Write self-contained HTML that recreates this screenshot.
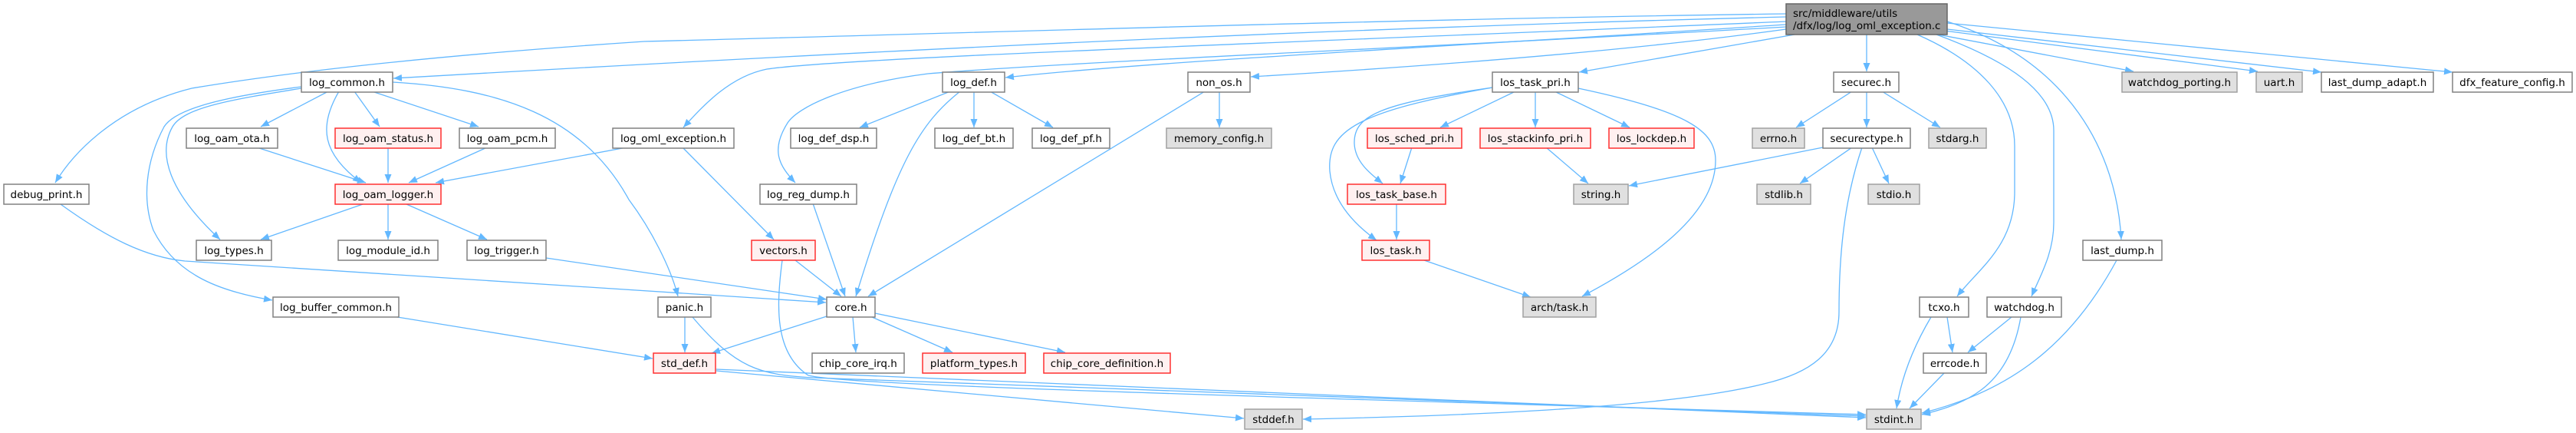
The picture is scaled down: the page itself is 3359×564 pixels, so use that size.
<!DOCTYPE html>
<html><head><meta charset="utf-8"><style>
html,body{margin:0;padding:0;background:#fff;}
svg{display:block;}
text{font-family:"DejaVu Sans","Liberation Sans",sans-serif;font-size:13.5px;fill:#000;}
.n{fill:#fff;stroke:#808080;stroke-width:1.5;}
.r{fill:#fff0f0;stroke:#ff3030;stroke-width:1.5;}
.g{fill:#e0e0e0;stroke:#a0a0a0;stroke-width:1.5;}
.e{fill:none;stroke:#63b8ff;stroke-width:1.3;marker-end:url(#a);}
</style></head><body>
<svg width="3359" height="564" viewBox="0 0 3359 564" xmlns="http://www.w3.org/2000/svg">
<defs><marker id="a" markerUnits="userSpaceOnUse" markerWidth="12" markerHeight="9" refX="11" refY="4.5" orient="auto"><path d="M0,0 L11,4.5 L0,9 z" fill="#63b8ff"/></marker></defs>
<g>
<!-- root edges -->
<path class="e" d="M2329,22 C1600,40 900,80 513,102"/>
<path class="e" d="M2329,18 C1800,25 1200,45 840,54 C600,70 400,90 250,115 C150,140 95,200 72,238"/>
<path class="e" d="M2329,28 C1700,55 1100,75 1000,90 C950,100 915,140 891,166"/>
<path class="e" d="M2329,32 C1900,60 1500,80 1311,101"/>
<path class="e" d="M2329,38 C2100,70 1800,90 1631,100"/>
<path class="e" d="M2329,35 C1900,60 1400,80 1210,96 C1100,110 1040,140 1027,160 C1005,195 1015,215 1037,238"/>
<path class="e" d="M2340,45 L2059,94"/>
<path class="e" d="M2434,45 L2434,93"/>
<path class="e" d="M2527,45 L2782,93"/>
<path class="e" d="M2535,40 L2944,93"/>
<path class="e" d="M2539,38 L3027,94"/>
<path class="e" d="M2539,30 L3198,94"/>
<path class="e" d="M2500,45 C2580,80 2627,130 2627,190 L2627,250 C2627,320 2580,350 2552,386"/>
<path class="e" d="M2525,45 C2620,80 2678,120 2678,170 L2678,290 C2678,330 2660,360 2649,386"/>
<path class="e" d="M2539,28 C2700,80 2760,200 2766,312"/>
<!-- log_common -->
<path class="e" d="M428,119 L340,165"/>
<path class="e" d="M442,119 C415,165 420,200 471,238"/>
<path class="e" d="M462,119 L495,165"/>
<path class="e" d="M485,119 L624,165"/>
<path class="e" d="M393,115 C300,130 240,140 225,165 C205,200 220,250 287,312"/>
<path class="e" d="M393,113 C300,125 230,140 214,165 C190,210 185,260 200,300 C230,360 290,380 355,391"/>
<path class="e" d="M512,107 C650,115 760,150 820,260 C850,300 875,350 884,386"/>
<!-- logger row -->
<path class="e" d="M335,192 L477,238"/>
<path class="e" d="M506,192 L506,238"/>
<path class="e" d="M635,192 L533,238"/>
<path class="e" d="M817,192 L568,238"/>
<path class="e" d="M890,192 L1009,312"/>
<path class="e" d="M473,266 L340,312"/>
<path class="e" d="M506,266 L506,312"/>
<path class="e" d="M530,266 L635,312"/>
<path class="e" d="M712,336 L1078,390"/>
<path class="e" d="M79,266 C140,310 190,335 241,340 L1077,394"/>
<path class="e" d="M512,412 L851,467"/>
<!-- mid -->
<path class="e" d="M893,413 L893,459"/>
<path class="e" d="M903,413 C960,480 990,488 1060,492 L2433,542"/>
<path class="e" d="M1037,339 L1097,386"/>
<path class="e" d="M1020,339 C1012,400 1010,460 1054,489 C1100,500 1400,510 2433,540"/>
<path class="e" d="M1060,265 L1102,386"/>
<path class="e" d="M1252,119 C1200,160 1170,210 1116,386"/>
<path class="e" d="M1239,119 L1121,166"/>
<path class="e" d="M1270,119 L1270,166"/>
<path class="e" d="M1291,119 L1373,166"/>
<path class="e" d="M1590,119 L1590,166"/>
<path class="e" d="M1571,119 L1132,386"/>
<path class="e" d="M1078,412 L928,460"/>
<path class="e" d="M1112,413 L1116,459"/>
<path class="e" d="M1137,413 L1242,459"/>
<path class="e" d="M1141,408 L1389,459"/>
<path class="e" d="M934,483 L1622,545"/>
<path class="e" d="M934,481 L2433,544"/>
<path class="e" d="M2428,192 C2405,260 2398,330 2398,406 C2398,460 2360,486 2300,500 C2200,525 2000,540 1699,546"/>
<!-- los -->
<path class="e" d="M1976,119 L1878,166"/>
<path class="e" d="M2002,119 L2002,166"/>
<path class="e" d="M2027,119 L2125,166"/>
<path class="e" d="M1946,114 C1800,135 1765,150 1766,187 C1767,210 1785,225 1803,239"/>
<path class="e" d="M1946,114 C1770,145 1730,170 1734,223 C1738,265 1770,295 1795,313"/>
<path class="e" d="M2058,115 C2200,145 2237,170 2237,209 C2237,280 2150,340 2063,386"/>
<path class="e" d="M1841,192 L1826,239"/>
<path class="e" d="M2016,192 L2071,239"/>
<path class="e" d="M1821,266 L1821,312"/>
<path class="e" d="M1857,339 L1996,387"/>
<path class="e" d="M2415,119 L2342,166"/>
<path class="e" d="M2434,119 L2434,166"/>
<path class="e" d="M2454,119 L2530,166"/>
<path class="e" d="M2377,192 L2124,242"/>
<path class="e" d="M2415,192 L2347,239"/>
<path class="e" d="M2441,192 L2463,239"/>
<path class="e" d="M2539,413 L2546,459"/>
<path class="e" d="M2518,413 C2490,460 2478,500 2473,532"/>
<path class="e" d="M2535,486 L2490,532"/>
<path class="e" d="M2623,413 L2566,459"/>
<path class="e" d="M2635,413 C2620,500 2570,525 2506,540"/>
<path class="e" d="M2760,339 C2700,450 2620,510 2506,538"/>
</g>
<g>
<rect x="2329" y="5" width="210" height="40" fill="#999" stroke="#666" stroke-width="1.5"/>
<text x="2338" y="22">src/middleware/utils</text><text x="2338" y="38">/dfx/log/log_oml_exception.c</text>
</g>
<g text-anchor="middle">
<rect class="n" x="393" y="94" width="119" height="26"/><text x="452.5" y="112">log_common.h</text>
<rect class="n" x="1229" y="94" width="81" height="26"/><text x="1269.5" y="112">log_def.h</text>
<rect class="n" x="1549" y="94" width="81" height="26"/><text x="1589.5" y="112">non_os.h</text>
<rect class="n" x="1946" y="94" width="112" height="26"/><text x="2002" y="112">los_task_pri.h</text>
<rect class="n" x="2391" y="94" width="85" height="26"/><text x="2433.5" y="112">securec.h</text>
<rect class="g" x="2767" y="94" width="150" height="26"/><text x="2842" y="112">watchdog_porting.h</text>
<rect class="g" x="2942" y="94" width="60" height="26"/><text x="2972" y="112">uart.h</text>
<rect class="n" x="3027" y="94" width="146" height="26"/><text x="3100" y="112">last_dump_adapt.h</text>
<rect class="n" x="3198" y="94" width="156" height="26"/><text x="3276" y="112">dfx_feature_config.h</text>

<rect class="n" x="243" y="167" width="119" height="26"/><text x="302.5" y="185">log_oam_ota.h</text>
<rect class="r" x="437" y="167" width="138" height="26"/><text x="506" y="185">log_oam_status.h</text>
<rect class="n" x="599" y="167" width="125" height="26"/><text x="661.5" y="185">log_oam_pcm.h</text>
<rect class="n" x="799" y="167" width="158" height="26"/><text x="878" y="185">log_oml_exception.h</text>
<rect class="n" x="1031" y="167" width="112" height="26"/><text x="1087" y="185">log_def_dsp.h</text>
<rect class="n" x="1219" y="167" width="102" height="26"/><text x="1270" y="185">log_def_bt.h</text>
<rect class="n" x="1346" y="167" width="101" height="26"/><text x="1396.5" y="185">log_def_pf.h</text>
<rect class="g" x="1521" y="167" width="137" height="26"/><text x="1589.5" y="185">memory_config.h</text>
<rect class="r" x="1783" y="167" width="123" height="26"/><text x="1844.5" y="185">los_sched_pri.h</text>
<rect class="r" x="1930" y="167" width="144" height="26"/><text x="2002" y="185">los_stackinfo_pri.h</text>
<rect class="r" x="2098" y="167" width="111" height="26"/><text x="2153.5" y="185">los_lockdep.h</text>
<rect class="g" x="2285" y="167" width="68" height="26"/><text x="2319" y="185">errno.h</text>
<rect class="n" x="2377" y="167" width="114" height="26"/><text x="2434" y="185">securectype.h</text>
<rect class="g" x="2515" y="167" width="75" height="26"/><text x="2552.5" y="185">stdarg.h</text>

<rect class="n" x="5" y="240" width="111" height="26"/><text x="60.5" y="258">debug_print.h</text>
<rect class="r" x="437" y="240" width="138" height="26"/><text x="506" y="258">log_oam_logger.h</text>
<rect class="n" x="991" y="240" width="126" height="26"/><text x="1054" y="258">log_reg_dump.h</text>
<rect class="r" x="1757" y="240" width="128" height="26"/><text x="1821" y="258">los_task_base.h</text>
<rect class="g" x="2052" y="240" width="71" height="26"/><text x="2087.5" y="258">string.h</text>
<rect class="g" x="2291" y="240" width="70" height="26"/><text x="2326" y="258">stdlib.h</text>
<rect class="g" x="2436" y="240" width="67" height="26"/><text x="2469.5" y="258">stdio.h</text>

<rect class="n" x="256" y="313" width="98" height="26"/><text x="305" y="331">log_types.h</text>
<rect class="n" x="441" y="313" width="130" height="26"/><text x="506" y="331">log_module_id.h</text>
<rect class="n" x="609" y="313" width="103" height="26"/><text x="660.5" y="331">log_trigger.h</text>
<rect class="r" x="980" y="313" width="83" height="26"/><text x="1021.5" y="331">vectors.h</text>
<rect class="r" x="1776" y="313" width="88" height="26"/><text x="1820" y="331">los_task.h</text>
<rect class="n" x="2716" y="313" width="103" height="26"/><text x="2767.5" y="331">last_dump.h</text>

<rect class="n" x="356" y="387" width="164" height="26"/><text x="438" y="405">log_buffer_common.h</text>
<rect class="n" x="858" y="387" width="69" height="26"/><text x="892.5" y="405">panic.h</text>
<rect class="n" x="1078" y="387" width="63" height="26"/><text x="1109.5" y="405">core.h</text>
<rect class="g" x="1986" y="387" width="95" height="26"/><text x="2033.5" y="405">arch/task.h</text>
<rect class="n" x="2503" y="387" width="64" height="26"/><text x="2535" y="405">tcxo.h</text>
<rect class="n" x="2591" y="387" width="97" height="26"/><text x="2639.5" y="405">watchdog.h</text>

<rect class="r" x="852" y="460" width="81" height="26"/><text x="892.5" y="478">std_def.h</text>
<rect class="n" x="1059" y="460" width="120" height="26"/><text x="1119" y="478">chip_core_irq.h</text>
<rect class="r" x="1203" y="460" width="134" height="26"/><text x="1270" y="478">platform_types.h</text>
<rect class="r" x="1361" y="460" width="165" height="26"/><text x="1443.5" y="478">chip_core_definition.h</text>
<rect class="n" x="2508" y="460" width="82" height="26"/><text x="2549" y="478">errcode.h</text>

<rect class="g" x="1623" y="533" width="75" height="26"/><text x="1660.5" y="551">stddef.h</text>
<rect class="g" x="2434" y="533" width="71" height="26"/><text x="2469.5" y="551">stdint.h</text>
</g>
</svg>
</body></html>
